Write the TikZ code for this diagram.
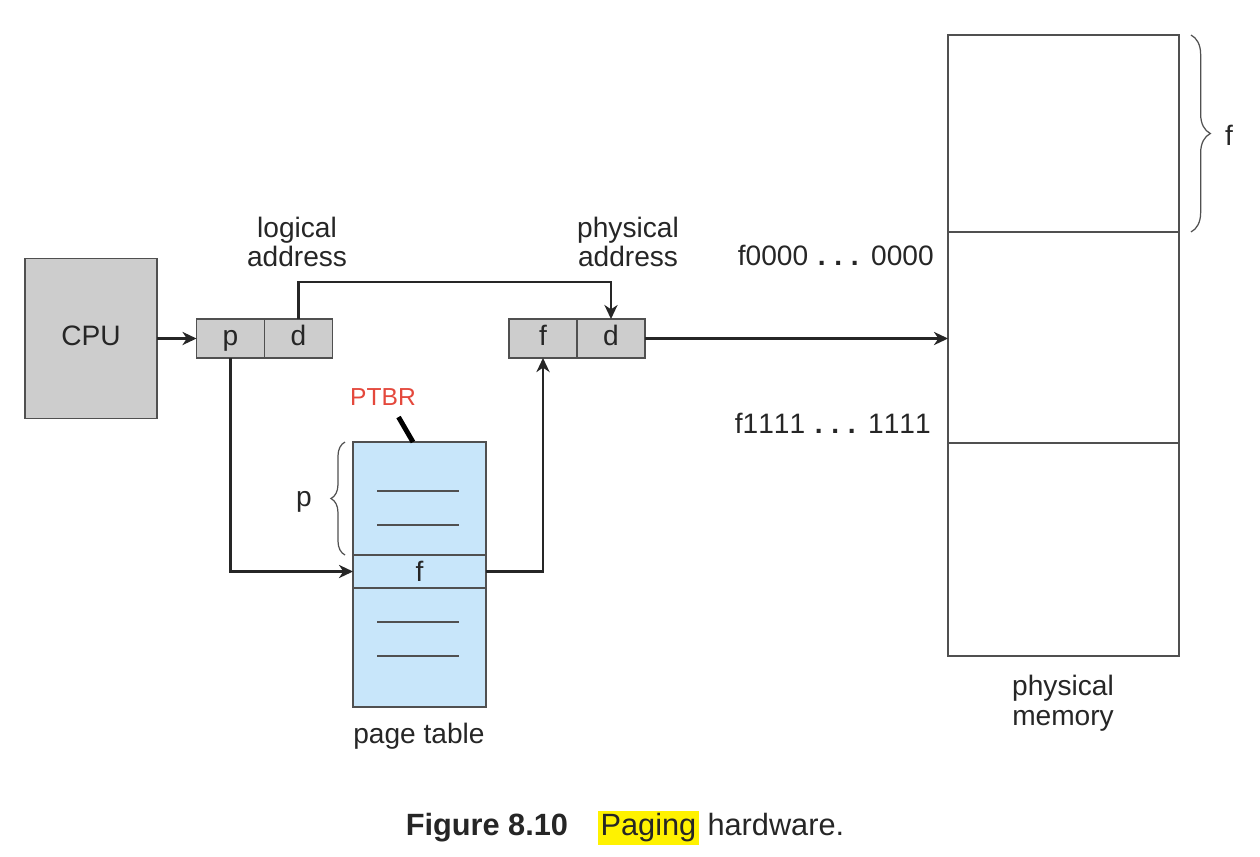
\documentclass[tikz,border=0pt]{standalone}
\usepackage{fontspec}
\setmainfont{Liberation Sans}
\usepackage{xcolor}
\usepackage{tikz}
\usetikzlibrary{arrows.meta, positioning, calc, decorations.pathreplacing}
\definecolor{ptgray}{RGB}{205,205,205}
\definecolor{ptblue}{RGB}{200,230,250}
\definecolor{ptred}{RGB}{228,72,60}
\definecolor{inkgray}{RGB}{38,38,38}
\definecolor{edgegray}{RGB}{80,80,80}
\definecolor{marker}{RGB}{255,242,0}
\tikzstyle{cell} = [rectangle, draw=edgegray, line width=0.8pt, fill=ptgray, minimum width=1.36cm, minimum height=0.78cm, inner sep=0pt, outer sep=0pt, text height=11.5pt, text depth=3.5pt]
\tikzstyle{arrow} = [line width=1.3pt, draw=inkgray, -{Stealth[length=8pt, width=7.5pt, inset=2.5pt]}]
\newcommand{\dotrun}[2]{\addfontfeatures{Kerning=Off}#1\hspace{5.5pt}\textbf{.\hspace{5pt}.\hspace{5pt}.}\hspace{7pt}#2}

\begin{document}
\begin{tikzpicture}[
    x=0.02cm, y=-0.02cm,
    font=\fontsize{16}{17}\selectfont,
    text=inkgray,
    tbl/.style={rectangle, draw=edgegray, line width=0.8pt, fill=ptblue, minimum width=2.66cm, inner sep=0pt, outer sep=0pt},
    frame/.style={rectangle, draw=edgegray, line width=0.8pt, minimum width=4.62cm, inner sep=0pt, outer sep=0pt},
    rowline/.style={draw=edgegray, line width=0.9pt},
    curly/.style={draw=edgegray, line width=0.7pt, decorate},
    ptbrline/.style={draw=black, line width=2.8pt}
]
\useasboundingbox (0,0) rectangle (1260,856);

% CPU and addresses
\node[cell, minimum width=2.64cm, minimum height=3.2cm] (cpu) at (91,338.5) {CPU};
\node[cell] (lp) at (230.5,338.5) {p};
\node[cell, right=0pt of lp] (ld) {d};
\node[cell] (pf) at (543,338.5) {f};
\node[cell, right=0pt of pf] (pd) {d};

\node[align=center] (logical) at (297,242) {logical\\address};
\node[align=center] (physical) at (628,242) {physical\\address};

% Page table
\node[tbl, minimum height=5.3cm] (table) at (419.5,574.5) {};
\node[tbl, minimum height=0.66cm] (frow) at (419.5,571.5) {f};
\foreach \y in {491,525,622,656}
    \draw[rowline] (377,\y) -- (459,\y);
\node[font=\fontsize{14}{16}\selectfont, text=ptred] (ptbr) at (383,397) {PTBR};
\draw[ptbrline] ($(table.north)+(-21,-25)$) -- ($(table.north)+(-6.5,0)$);
\draw[curly, decoration={brace, amplitude=8pt}] ($(frow.north west)+(-8,0)$) -- ($(table.north west)+(-8,0)$);
\node (plabel) at (304,502) {p};
\node (tlabel) at (419,736) {page table};

% Physical memory
\node[frame, minimum height=3.94cm] (mtop) at (1063.5,133.5) {};
\node[frame, minimum height=4.22cm, below=0pt of mtop] (mmid) {};
\node[frame, minimum height=4.26cm, below=0pt of mmid] (mbot) {};
\draw[curly, decoration={brace, amplitude=11pt}] ($(mtop.north east)+(12,0)$) -- ($(mtop.south east)+(12,0)$);
\node (flabel) at (1229,135) {f};
\node[anchor=base east, inner sep=0pt] (lo) at (934,265) {\dotrun{f0000}{0000}};
\node[anchor=base east, inner sep=0pt] (hi) at (931,433) {\dotrun{f1111}{1111}};
\node[align=center] (mlabel) at (1063,703) {physical\\memory};

% Connectors
\draw[arrow] (cpu.east) -- (lp.west);
\draw[arrow] (ld.north) -- ++(0,-37) -| (pd.north);
\draw[arrow] (lp.south) |- (frow.west);
\draw[arrow] (frow.east) -| (pf.south);
\draw[arrow] (pd.east) -- (pd.east -| mmid.west);

% Caption
\node[font=\fontsize{17.5}{20}\selectfont] (caption) at (625,828) {\textbf{Figure 8.10}\hspace{17pt}{\setlength{\fboxsep}{1.5pt}\colorbox{marker}{Paging}} hardware.};

\end{tikzpicture}
\end{document}
